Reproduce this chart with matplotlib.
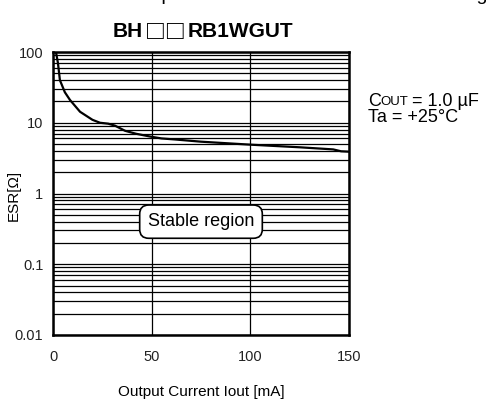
import numpy as np
import matplotlib.pyplot as plt
from matplotlib.ticker import FixedLocator, FixedFormatter, LogLocator, NullFormatter

plt.rcParams['font.family'] = ['Liberation Sans', 'DejaVu Sans']

# ESR boundary curve
iout = [1.5, 2.5, 3.5, 6, 8.6, 13.7, 20, 23.8, 28, 31.4, 36.5, 42, 49, 55, 62, 75, 100, 125, 142, 146, 150]
esr = [100, 70, 40, 27, 21, 14.3, 11, 10, 9.7, 9.1, 7.7, 7.0, 6.4, 6.0, 5.8, 5.4, 4.9, 4.5, 4.2, 3.95, 3.9]

xticks = [0, 50, 100, 150]
yticks = [0.01, 0.1, 1, 10, 100]
ylabels = ['0.01', '0.1', '1', '10', '100']

W, H = 486, 400
fig = plt.figure(figsize=(W / 100, H / 100), dpi=100)
ax = fig.add_axes([53 / W, 1 - 335 / H, (349 - 53) / W, (335 - 52) / H])

ax.set_yscale('log')
ax.set_xlim(0, 150)
ax.set_ylim(0.01, 100)
ax.plot(iout, esr, color='black', lw=1.6)

ax.xaxis.set_major_locator(FixedLocator(xticks))
ax.yaxis.set_major_locator(FixedLocator(yticks))
ax.yaxis.set_major_formatter(FixedFormatter(ylabels))
ax.yaxis.set_minor_locator(LogLocator(base=10, subs=np.arange(2, 10)))
ax.yaxis.set_minor_formatter(NullFormatter())
ax.grid(True, which='both', color='black', lw=0.9)
ax.tick_params(which='both', length=0, labelsize=10.5, colors='#222222')
ax.tick_params(axis='x', pad=11)
ax.tick_params(axis='y', pad=7)
for s in ax.spines.values():
    s.set_linewidth(1.8)

ax.set_xlabel('Output Current Iout [mA]', fontsize=11)
ax.xaxis.set_label_coords(0.5, -(385 - 335) / 283, transform=ax.transAxes)
ax.set_ylabel('ESR[Ω]', fontsize=11)
ax.yaxis.set_label_coords((21 - 53) / 296, (335 - 195) / 283, transform=ax.transAxes)

ax.text(75, 0.40, 'Stable region', fontsize=13, ha='center', va='center',
        bbox=dict(boxstyle='round,pad=0.45,rounding_size=0.5', fc='white', ec='black', lw=1.2))

# title "BH□□RB1WGUT": the two boxes are drawn in a CJK font so they come out full size
ty = 1 - 37 / H
fig.text(143 / W, ty, 'BH', fontsize=15, fontweight='bold', ha='right', va='baseline')
fig.text(165.5 / W, ty - 2 / H, '□□', fontsize=15, fontweight='bold', family='Noto Sans CJK JP',
         ha='center', va='baseline')
fig.text(188 / W, ty, 'RB1WGUT', fontsize=15, fontweight='bold', ha='left', va='baseline')
fig.text(130 / W, 1.0, 'Output Current vs. ESR Stable Area Diagram', fontsize=14,
         ha='left', va='baseline')

# Cout with small-caps "OUT"
fig.text(368 / W, 1 - 101 / H, 'C', fontsize=13, ha='left', va='center')
fig.text(380 / W, 1 - 102 / H, 'OUT', fontsize=9.5, ha='left', va='center')
fig.text(407 / W, 1 - 101 / H, ' = 1.0 µF', fontsize=13, ha='left', va='center')
fig.text(368 / W, 1 - 118 / H, 'Ta = +25°C', fontsize=13, ha='left', va='center')

fig.savefig('out.png', dpi=100)
